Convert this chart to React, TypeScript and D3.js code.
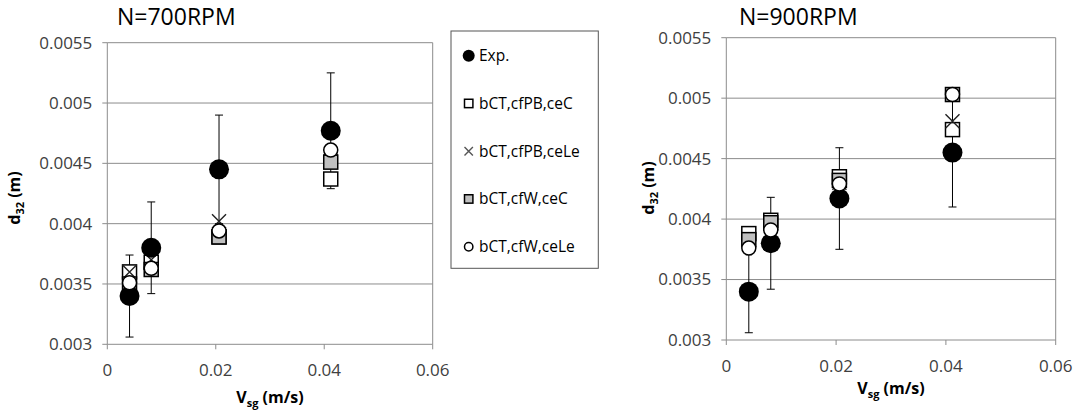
import React from "react";
import * as d3 from "d3";

// superficial gas velocity (m/s)
const vsg = [0.0041, 0.0081, 0.0206, 0.0412];

// N = 700 RPM
const exp700 = [0.0034, 0.0038, 0.00445, 0.00477];
const expErr700 = [0.00034, 0.00038, 0.00045, 0.00048];
const pbC700 = [0.0036, 0.00368, 0.00389, 0.00437];
const pbLe700 = [0.0036, 0.0037, 0.00402, 0.00452];
const wC700 = [0.0035, 0.00362, 0.00389, 0.00451];
const wLe700 = [0.00351, 0.00363, 0.00394, 0.00461];

// N = 900 RPM
const exp900 = [0.0034, 0.0038, 0.00417, 0.00455];
const expErr900 = [0.00034, 0.00038, 0.00042, 0.00045];
const pbC900 = [0.00388, 0.00399, 0.00435, 0.00474];
const pbLe900 = [0.00383, 0.00396, 0.0043, 0.00481];
const wC900 = [0.00383, 0.00397, 0.00432, 0.00503];
const wLe900 = [0.00376, 0.00391, 0.00429, 0.00503];

const xTicks = [0, 0.02, 0.04, 0.06];
const yTicks = [0.003, 0.0035, 0.004, 0.0045, 0.005, 0.0055];
const legendLabels = ["Exp.", "bCT,cfPB,ceC", "bCT,cfPB,ceLe", "bCT,cfW,ceC", "bCT,cfW,ceLe"];
const markerTypes = ["dot", "square", "cross", "graySquare", "circle"];

const FONT = "'Open Sans', 'Noto Sans', sans-serif";
const GRID = "#8c8c8c";
const TEXT = "#404040";

function Marker({ type, x, y, s = 1 }) {
  if (type === "dot") return <circle cx={x} cy={y} r={10 * s} fill="#000" />;
  if (type === "circle")
    return <circle cx={x} cy={y} r={7 * s} fill="#fff" stroke="#000" strokeWidth={1.5} />;
  if (type === "square" || type === "graySquare") {
    const h = 7 * s;
    return (
      <rect x={x - h} y={y - h} width={2 * h} height={2 * h}
        fill={type === "square" ? "#fff" : "#c0c0c0"} stroke="#000" strokeWidth={1.5} />
    );
  }
  const h = 7 * s;
  return (
    <path d={`M${x - h},${y - h}L${x + h},${y + h}M${x - h},${y + h}L${x + h},${y - h}`}
      stroke={s < 1 ? "#555" : "#222"} strokeWidth={1.4} fill="none" />
  );
}

function Panel({ title, xr, yr, exp, err, series, titleX, titleY, xLabelY, yLabelX, yLabelY }) {
  const x = d3.scaleLinear().domain([0, 0.06]).range(xr);
  const y = d3.scaleLinear().domain([0.003, 0.0055]).range(yr);
  const fmt = (v) => String(+v.toFixed(4));
  const cx = (xr[0] + xr[1]) / 2;
  return (
    <g fontFamily={FONT}>
      <text x={titleX} y={titleY} fontSize={23} fill="#000">{title}</text>
      {yTicks.map((t) => (
        <g key={t}>
          <line x1={xr[0]} x2={xr[1]} y1={y(t)} y2={y(t)} stroke={GRID} />
          <line x1={xr[0] - 5} x2={xr[0]} y1={y(t)} y2={y(t)} stroke={GRID} />
          <text x={xr[0] - 15} y={y(t)} dy="0.35em" textAnchor="end" fontSize={17} fill={TEXT}>
            {fmt(t)}
          </text>
        </g>
      ))}
      <line x1={xr[0]} x2={xr[0]} y1={yr[0]} y2={yr[1]} stroke={GRID} />
      <line x1={xr[1]} x2={xr[1]} y1={yr[0]} y2={yr[1]} stroke={GRID} />
      {xTicks.map((t) => (
        <g key={t}>
          <line x1={x(t)} x2={x(t)} y1={yr[0]} y2={yr[0] + 5} stroke={GRID} />
          <text x={x(t)} y={yr[0] + 26} dy="0.35em" textAnchor="middle" fontSize={17} fill={TEXT}>
            {t === 0 ? "0" : t.toFixed(2)}
          </text>
        </g>
      ))}
      <text x={cx} y={xLabelY} textAnchor="middle" fontSize={16} fontWeight="bold" fill="#000">
        V<tspan fontSize={11} dy={4}>sg</tspan><tspan dy={-4}> (m/s)</tspan>
      </text>
      <text transform={`translate(${yLabelX},${yLabelY}) rotate(-90)`} textAnchor="middle"
        fontSize={16} fontWeight="bold" fill="#000">
        d<tspan fontSize={11} dy={4}>32</tspan><tspan dy={-4}> (m)</tspan>
      </text>
      {vsg.map((v, i) => (
        <g key={"e" + i} stroke="#000" strokeWidth={1}>
          <line x1={x(v)} x2={x(v)} y1={y(exp[i] - err[i])} y2={y(exp[i] + err[i])} />
          <line x1={x(v) - 4} x2={x(v) + 4} y1={y(exp[i] - err[i])} y2={y(exp[i] - err[i])} />
          <line x1={x(v) - 4} x2={x(v) + 4} y1={y(exp[i] + err[i])} y2={y(exp[i] + err[i])} />
        </g>
      ))}
      {series.slice(0, -1).map(([type, vals]) =>
        vsg.map((v, i) => <Marker key={type + i} type={type} x={x(v)} y={y(vals[i])} />)
      )}
      {vsg.map((v, i) => <Marker key={"x" + i} type="dot" x={x(v)} y={y(exp[i])} />)}
      {vsg.map((v, i) => (
        <Marker key={"c" + i} type="circle" x={x(v)} y={y(series[series.length - 1][1][i])} />
      ))}
    </g>
  );
}

export default function App() {
  const legendY = d3.scaleLinear().domain([0, 4]).range([55.7, 246.7]);
  return (
    <svg width={1076} height={414} style={{ position: "absolute", left: 0, top: 0, background: "#fff" }}>
      <Panel title="N=700RPM" xr={[107.3, 432.7]} yr={[344.3, 42.7]}
        exp={exp700} err={expErr700}
        series={[["square", pbC700], ["cross", pbLe700], ["graySquare", wC700], ["circle", wLe700]]}
        titleX={117} titleY={25} xLabelY={403} yLabelX={20} yLabelY={198} />
      <Panel title="N=900RPM" xr={[726.3, 1055.7]} yr={[340, 37.7]}
        exp={exp900} err={expErr900}
        series={[["square", pbC900], ["cross", pbLe900], ["graySquare", wC900], ["circle", wLe900]]}
        titleX={739} titleY={25} xLabelY={394} yLabelX={654} yLabelY={188} />
      <g fontFamily={FONT}>
        <rect x={451} y={31} width={147.3} height={237.3} fill="#fff" stroke="#555" />
        {legendLabels.map((l, i) => (
          <g key={l}>
            <Marker type={markerTypes[i]} x={468.7} y={legendY(i)} s={0.6} />
            <text x={479} y={legendY(i)} dy="0.35em" fontSize={15.5} fill="#000">{l}</text>
          </g>
        ))}
      </g>
    </svg>
  );
}
